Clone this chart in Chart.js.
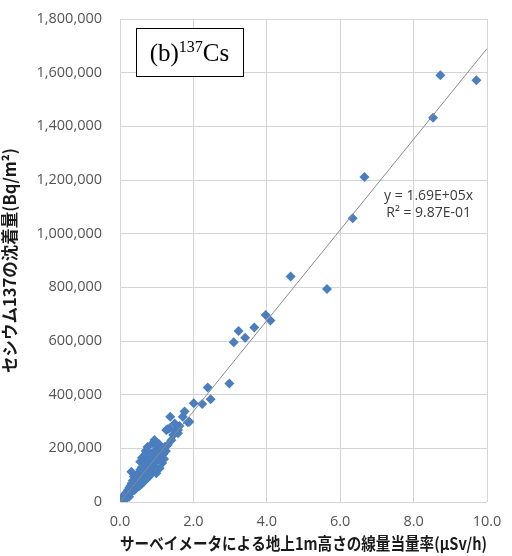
<!DOCTYPE html>
<html>
<head>
<meta charset="utf-8">
<script src="https://cdn.jsdelivr.net/npm/chart.js@4/dist/chart.umd.min.js"></script>
<style>
  html, body { margin: 0; padding: 0; background: #fff; }
  #wrap { width: 512px; height: 556px; }
</style>
</head>
<body>
<div id="wrap"><canvas id="ChartCs"></canvas></div>
<script>
// survey meter dose rate at 1 m (uSv/h)
var doseRate = [
  0.05, 0.07, 0.08, 0.10, 0.10, 0.12, 0.13, 0.15, 0.15, 0.17,
  0.18, 0.20, 0.20, 0.22, 0.23, 0.25, 0.25, 0.27, 0.28, 0.30,
  0.30, 0.31, 0.32, 0.33, 0.35, 0.35, 0.37, 0.38, 0.40, 0.40,
  0.42, 0.43, 0.45, 0.45, 0.47, 0.48, 0.50, 0.50, 0.52, 0.53,
  0.55, 0.55, 0.55, 0.57, 0.58, 0.60, 0.60, 0.60, 0.62, 0.62,
  0.63, 0.65, 0.65, 0.67, 0.68, 0.70, 0.70, 0.70, 0.71, 0.72,
  0.73, 0.75, 0.75, 0.75, 0.77, 0.78, 0.80, 0.80, 0.82, 0.83,
  0.85, 0.85, 0.88, 0.89, 0.90, 0.92, 0.94, 0.95, 0.97, 0.99,
  1.00, 1.02, 1.04, 1.06, 1.08, 1.10, 1.12, 1.15, 1.18, 1.20,
  1.22, 1.25, 1.26, 1.30, 1.30, 1.35, 1.37, 1.40, 1.45, 1.49,
  1.52, 1.58, 1.58, 1.62, 1.71, 1.76, 1.85, 1.89, 2.01, 2.24,
  2.39, 2.47, 2.98, 3.10, 3.23, 3.41, 3.66, 3.97, 4.10, 4.65,
  5.64, 6.34, 6.66, 8.53, 8.73, 9.71
];
// Cs-137 deposition (Bq/m2)
var deposition = [
  5000, 12000, 4000, 15000, 22000, 9000, 25000, 18000, 32000, 28000,
  14000, 38000, 24000, 45000, 30000, 52000, 20000, 40000, 60000, 35000,
  48000, 113000, 70000, 42000, 58000, 80000, 50000, 95000, 64000, 45000,
  88000, 72000, 55000, 100000, 82000, 62000, 92000, 70000, 108000, 60000,
  85000, 120000, 150000, 75000, 100000, 130000, 68000, 165000, 119000, 150000,
  90000, 140000, 78000, 110000, 150000, 95000, 125000, 190000, 181000, 85000,
  160000, 105000, 138000, 205000, 92000, 165000, 118000, 175000, 100000, 148000,
  181000, 125000, 110000, 219000, 160000, 135000, 231000, 190000, 150000, 107000,
  170000, 212000, 185000, 216000, 126000, 160000, 195000, 145000, 178000, 160000,
  205000, 190000, 268000, 212000, 271000, 275000, 318000, 230000, 250000, 293000,
  265000, 256000, 268000, 283000, 318000, 337000, 297000, 299000, 368000, 365000,
  427000, 383000, 442000, 595000, 637000, 612000, 650000, 697000, 676000, 840000,
  794000, 1057000, 1211000, 1432000, 1590000, 1572000
];
var yTicks = [0, 200000, 400000, 600000, 800000, 1000000, 1200000, 1400000, 1600000, 1800000];
var xTicks = [0, 2, 4, 6, 8, 10];
var slope = 169000;   // y = 1.69E+05x
var rSquared = '9.87E-01';

var points = doseRate.map(function (x, i) { return { x: x, y: deposition[i] }; });
var trend = [{ x: 0, y: 0 }, { x: 10, y: slope * 10 }];

// frame label and trendline equation
var labelPlugin = {
  id: 'labels',
  afterDraw: function (chart) {
    var ctx = chart.ctx;
    var area = chart.chartArea;
    var xs = chart.scales.x, ys = chart.scales.y;
    ctx.save();
    // (b)137Cs box
    var bx = area.left + 16, by = area.top + 9, bw = 107, bh = 48;
    ctx.fillStyle = '#fff';
    ctx.fillRect(bx, by, bw, bh);
    ctx.strokeStyle = '#000';
    ctx.lineWidth = 1;
    ctx.strokeRect(bx + 0.5, by + 0.5, bw, bh);
    ctx.fillStyle = '#000';
    ctx.textBaseline = 'alphabetic';
    ctx.textAlign = 'left';
    var big = '25px "Liberation Serif", "DejaVu Serif", serif';
    var small = '16px "Liberation Serif", "DejaVu Serif", serif';
    ctx.font = big; var w1 = ctx.measureText('(b)').width;
    ctx.font = small; var w2 = ctx.measureText('137').width;
    ctx.font = big; var w3 = ctx.measureText('Cs').width;
    var tx = bx + (bw - (w1 + w2 + w3)) / 2;
    var base = by + 33;
    ctx.font = big; ctx.fillText('(b)', tx, base);
    ctx.font = small; ctx.fillText('137', tx + w1, base - 9);
    ctx.font = big; ctx.fillText('Cs', tx + w1 + w2, base);
    // equation
    ctx.fillStyle = '#3a3a3a';
    ctx.font = '14px "Open Sans", "DejaVu Sans", sans-serif';
    ctx.textAlign = 'center';
    ctx.textBaseline = 'middle';
    var cx = xs.getPixelForValue(8.41);
    ctx.fillText('y = ' + (slope / 100000).toFixed(2) + 'E+05x', cx, ys.getPixelForValue(1141000));
    ctx.fillText('R² = ' + rSquared, cx, ys.getPixelForValue(1077000));
    ctx.restore();
  }
};

var tickFont = { family: '"Open Sans", "DejaVu Sans", sans-serif', size: 14.5 };
var titleFont = { family: '"Noto Sans CJK JP", sans-serif', size: 16.5, weight: 'bold' };

var myChart = new Chart(document.getElementById('ChartCs').getContext('2d'), {
  type: 'scatter',
  data: {
    datasets: [{
      type: 'line',
      label: 'trend',
      data: trend,
      borderColor: '#8c8c8c',
      borderWidth: 1,
      pointRadius: 0,
      fill: false,
      order: 0
    }, {
      label: 'Cs-137',
      data: points,
      pointStyle: 'rectRot',
      pointRadius: 5,
      pointBackgroundColor: '#4a7ebf',
      pointBorderColor: '#4a7ebf',
      pointBorderWidth: 0,
      order: 1
    }]
  },
  plugins: [labelPlugin],
  options: {
    responsive: true,
    maintainAspectRatio: false,
    animation: false,
    layout: { padding: { top: 19, right: 25, left: 0, bottom: 0 } },
    plugins: {
      legend: { display: false },
      tooltip: { enabled: false }
    },
    scales: {
      x: {
        type: 'linear',
        min: 0,
        max: 10,
        afterBuildTicks: function (s) { s.ticks = xTicks.map(function (v) { return { value: v }; }); },
        afterFit: function (s) { s.height = 54; },
        // invisible tick marks keep the labels away from the axis
        grid: { color: '#d4d4d4', drawTicks: true, tickLength: 9, tickColor: 'rgba(0,0,0,0)' },
        border: { display: false },
        ticks: {
          color: '#555',
          font: tickFont,
          padding: 2,
          callback: function (v) { return v.toFixed(1); }
        },
        title: {
          display: true,
          text: 'サーベイメータによる地上1m高さの線量当量率(μSv/h)',
          color: '#1a1a1a',
          font: titleFont,
          padding: { top: 0, bottom: 2 }
        }
      },
      y: {
        type: 'linear',
        min: 0,
        max: 1800000,
        afterBuildTicks: function (s) { s.ticks = yTicks.map(function (v) { return { value: v }; }); },
        afterFit: function (s) { s.width = 120; },
        grid: { color: '#d4d4d4', drawTicks: true, tickLength: 16, tickColor: 'rgba(0,0,0,0)' },
        border: { display: false },
        ticks: {
          color: '#555',
          font: tickFont,
          padding: 2,
          callback: function (v) { return v.toLocaleString('en-US'); }
        },
        title: {
          display: true,
          text: 'セシウム137の沈着量(Bq/m²)',
          color: '#1a1a1a',
          font: titleFont,
          padding: { top: 0, bottom: 0 }
        }
      }
    }
  }
});
</script>
</body>
</html>
